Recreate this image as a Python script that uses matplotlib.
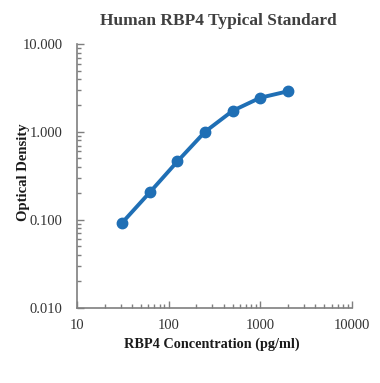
import matplotlib
matplotlib.use("Agg")
import matplotlib.pyplot as plt
from matplotlib.ticker import LogLocator, FixedLocator, NullFormatter, FixedFormatter

conc = [31.25, 62.5, 125, 250, 500, 1000, 2000]
od = [0.093, 0.206, 0.463, 1.005, 1.74, 2.45, 2.90]
x_ticks = [10, 100, 1000, 10000]
x_labels = ["10", "100", "1000", "10000"]
y_ticks = [0.01, 0.1, 1, 10]
y_labels = ["0.010", "0.100", "1.000", "10.000"]

plt.rcParams['font.family'] = ['Liberation Serif', 'DejaVu Serif']

fig = plt.figure(figsize=(3.8, 3.83), dpi=100)
ax = fig.add_axes([0.2026, 0.1966, 0.7234, 0.6884])

ax.plot(conc, od, color='#1f6fb5', lw=2.8, marker='o', ms=7.5, solid_capstyle='round')
ax.set_xscale('log')
ax.set_yscale('log')
ax.set_xlim(10, 10000)
ax.set_ylim(0.01, 10)

ax.xaxis.set_major_locator(FixedLocator(x_ticks))
ax.xaxis.set_major_formatter(FixedFormatter(x_labels))
ax.yaxis.set_major_locator(FixedLocator(y_ticks))
ax.yaxis.set_major_formatter(FixedFormatter(y_labels))
ax.xaxis.set_minor_locator(LogLocator(base=10, subs=range(2, 10)))
ax.yaxis.set_minor_locator(LogLocator(base=10, subs=range(2, 10)))
ax.xaxis.set_minor_formatter(NullFormatter())
ax.yaxis.set_minor_formatter(NullFormatter())

for s in ['top', 'right']:
    ax.spines[s].set_visible(False)
for s in ['left', 'bottom']:
    ax.spines[s].set_color('#7f7f7f')
    ax.spines[s].set_linewidth(1.2)

ax.tick_params(axis='both', which='both', direction='in', colors='#7f7f7f', labelcolor='#333333', labelsize=10.5)
ax.tick_params(axis='both', which='major', length=5, width=1)
ax.tick_params(axis='both', which='minor', length=3, width=1)
ax.tick_params(axis='x', pad=8)
ax.tick_params(axis='y', pad=10.5)

ax.set_xlabel('RBP4 Concentration (pg/ml)', fontsize=10.3, fontweight='bold', color='#1a1a1a')
ax.xaxis.set_label_coords((212 - 77) / 275, -(338 - 307.7) / 263.7)
ax.set_ylabel('Optical Density', fontsize=10.5, fontweight='bold', color='#1a1a1a')
ax.yaxis.set_label_coords((30 - 77) / 275, (307.7 - 172.5) / 263.7)
fig.text(0.5 * (102 + 335) / 380, 1 - 21 / 383, 'Human RBP4 Typical Standard', ha='center', va='center',
         fontsize=12.5, fontweight='bold', color='#404040')

fig.savefig('out.png', dpi=100)
